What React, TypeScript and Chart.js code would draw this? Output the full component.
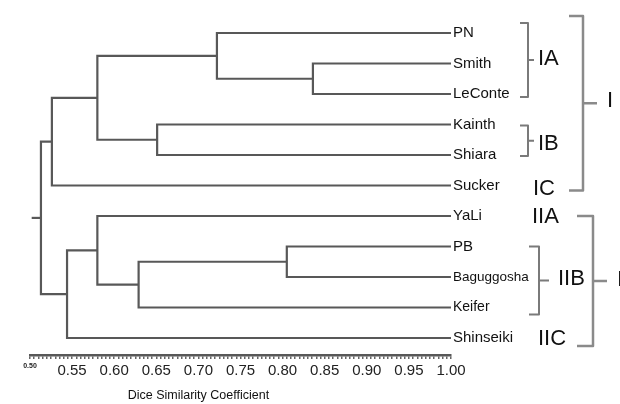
import React, { useEffect, useRef } from 'react';
import { Chart, registerables } from 'chart.js';

Chart.register(...registerables);

// ---- data ----
const leaves = ['PN', 'Smith', 'LeConte', 'Kainth', 'Shiara', 'Sucker', 'YaLi', 'PB', 'Baguggosha', 'Keifer', 'Shinseiki'];
// linkage: node ids 0..10 are leaves, merge k creates node 11+k
const mergeLeft = [1, 7, 0, 3, 12, 13, 6, 17, 16, 19];
const mergeRight = [2, 8, 11, 4, 9, 14, 15, 10, 5, 18];
const mergeSimilarity = [0.836, 0.805, 0.722, 0.651, 0.629, 0.58, 0.58, 0.544, 0.526, 0.513];
const rootStemEnd = 0.502;
const axisMin = 0.5;
const axisMax = 1.0;
const majorTickLabels = ['0.50', '0.55', '0.60', '0.65', '0.70', '0.75', '0.80', '0.85', '0.90', '0.95', '1.00'];
const axisTitle = 'Dice Similarity Coefficient';
const clusterNames = ['IA', 'IB', 'IC', 'I', 'IIA', 'IIB', 'IIC', 'II'];
const clusterFirst = [0, 3, 5, 0, 6, 7, 10, 6];
const clusterLast = [2, 4, 5, 5, 6, 9, 10, 10];

const FONT = '"Liberation Sans", Arial, sans-serif';
const LINE = '#585858';

// layout of cluster annotations (pixel offsets from the x=1.0 position)
const clusterStyle: Record<string, any> = {
  IA: { bracket: true, bx: 77, top: -10, bot: 3, hook: 8, tick: 6, tx: 87, ty: -1, color: '#7a7a7a', w: 2 },
  IB: { bracket: true, bx: 77, top: 1, bot: 1, hook: 8, tick: 6, tx: 87, ty: 3, color: '#7a7a7a', w: 2 },
  IC: { bracket: false, tx: 82, ty: 3 },
  I: { bracket: true, bx: 132, top: -17, bot: 5, hook: 14, tick: 14, tx: 156, ty: -2, color: '#8a8a8a', w: 2.5 },
  IIA: { bracket: false, tx: 81, ty: 1 },
  IIB: { bracket: true, bx: 88, top: 0, bot: 7, hook: 10, tick: 10, tx: 107, ty: -2, color: '#7a7a7a', w: 2 },
  IIC: { bracket: false, tx: 87, ty: 1 },
  II: { bracket: true, bx: 142, top: 0, bot: 8, hook: 16, tick: 14, tx: 166, ty: -1, color: '#8a8a8a', w: 2.5 },
};
const leafFontSize: Record<string, number> = { Baguggosha: 13.5, Keifer: 14 };

function buildSegments() {
  const xs: number[] = leaves.map(() => axisMax);
  const ys: number[] = leaves.map((_, i) => i);
  const sets: { x: number; y: number }[][] = [];
  mergeLeft.forEach((l, k) => {
    const r = mergeRight[k];
    const s = mergeSimilarity[k];
    sets.push([
      { x: xs[l], y: ys[l] },
      { x: s, y: ys[l] },
      { x: s, y: ys[r] },
      { x: xs[r], y: ys[r] },
    ]);
    xs.push(s);
    ys.push((ys[l] + ys[r]) / 2);
  });
  const root = xs.length - 1;
  sets.push([
    { x: xs[root], y: ys[root] },
    { x: rootStemEnd, y: ys[root] },
  ]);
  return sets;
}

const annotationPlugin = {
  id: 'dendroLabels',
  afterDraw(chart: any) {
    const { ctx } = chart;
    const xS = chart.scales.x;
    const yS = chart.scales.y;
    const x1 = xS.getPixelForValue(axisMax);
    ctx.save();
    ctx.textBaseline = 'middle';
    ctx.textAlign = 'left';
    ctx.fillStyle = '#111';
    leaves.forEach((name, i) => {
      const size = leafFontSize[name] || 15;
      ctx.font = `${size}px ${FONT}`;
      ctx.fillText(name, x1 + 2, yS.getPixelForValue(i));
    });
    clusterNames.forEach((name, k) => {
      const st = clusterStyle[name];
      const yTop = yS.getPixelForValue(clusterFirst[k]);
      const yBot = yS.getPixelForValue(clusterLast[k]);
      let mid = (yTop + yBot) / 2;
      if (st.bracket) {
        const bx = x1 + st.bx;
        const t = yTop + st.top;
        const b = yBot + st.bot;
        mid = (t + b) / 2;
        ctx.strokeStyle = st.color;
        ctx.lineWidth = st.w;
        ctx.lineJoin = 'round';
        ctx.beginPath();
        ctx.moveTo(bx - st.hook, t);
        ctx.lineTo(bx, t);
        ctx.lineTo(bx, b);
        ctx.lineTo(bx - st.hook, b);
        ctx.moveTo(bx, mid);
        ctx.lineTo(bx + st.tick, mid);
        ctx.stroke();
      }
      ctx.fillStyle = '#111';
      ctx.font = `22px ${FONT}`;
      ctx.fillText(name, x1 + st.tx, mid + st.ty);
    });
    // axis title (placed under the 0.50-0.85 range as in the reference)
    ctx.textAlign = 'center';
    ctx.font = `12.5px ${FONT}`;
    ctx.fillStyle = '#111';
    ctx.fillText(axisTitle, xS.getPixelForValue(0.7), 396);
    ctx.restore();
  },
};

function isMajor(v: number) {
  return Math.abs(v * 20 - Math.round(v * 20)) < 1e-6;
}

export default function App() {
  const ref = useRef<HTMLCanvasElement | null>(null);
  useEffect(() => {
    if (!ref.current) return;
    const segs = buildSegments();
    const chart = new Chart(ref.current, {
      type: 'scatter',
      data: {
        datasets: segs.map((pts) => ({
          data: pts,
          showLine: true,
          borderColor: LINE,
          borderWidth: 2.2,
          pointRadius: 0,
          pointHoverRadius: 0,
          tension: 0,
          fill: false,
          clip: false as any,
        })),
      },
      options: {
        animation: false,
        responsive: false,
        events: [],
        layout: { padding: { left: 30, right: 169, top: 2.5, bottom: 0 } },
        plugins: { legend: { display: false }, tooltip: { enabled: false } },
        scales: {
          x: {
            type: 'linear',
            position: 'bottom',
            min: axisMin,
            max: axisMax,
            border: { display: true, color: LINE, width: 2.5 },
            grid: { drawOnChartArea: false, drawTicks: true, tickLength: 4, color: '#666', lineWidth: 1.5 },
            ticks: {
              stepSize: 0.005,
              autoSkip: false,
              maxRotation: 0,
              padding: 3,
              color: '#222',
              font: (c: any) =>
                c.tick && Math.abs(c.tick.value - axisMin) < 1e-6
                  ? { size: 7, weight: 'bold', family: FONT }
                  : { size: 15, family: FONT },
              callback: (v: any) => {
                const n = Number(v);
                if (!isMajor(n)) return '';
                const idx = Math.round((n - axisMin) * 20);
                return majorTickLabels[idx] ?? '';
              },
            },
            title: {
              display: true,
              text: axisTitle,
              color: 'rgba(0,0,0,0)',
              font: { size: 12.5, family: FONT },
              padding: { top: 5.5, bottom: 0.5 },
            },
          },
          y: {
            type: 'linear',
            display: false,
            reverse: true,
            min: -1,
            max: 10.557,
          },
        },
      },
      plugins: [annotationPlugin],
    });
    return () => chart.destroy();
  }, []);
  return (
    <div style={{ position: 'absolute', left: 0, top: 0, width: 620, height: 404, background: '#fff' }}>
      <canvas ref={ref} width={620} height={404} style={{ display: 'block' }} />
    </div>
  );
}
